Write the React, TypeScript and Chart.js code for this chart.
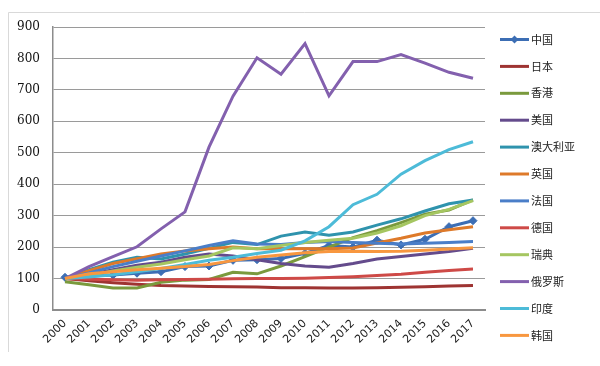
import React, { useEffect, useRef } from "react";
import { Chart, registerables } from "chart.js";

Chart.register(...registerables);

const years = ["2000","2001","2002","2003","2004","2005","2006","2007","2008","2009","2010","2011","2012","2013","2014","2015","2016","2017"];
const seriesNames = ["中国","日本","香港","美国","澳大利亚","英国","法国","德国","瑞典","俄罗斯","印度","韩国"];
const seriesColors = ["#3C6EB4","#9E3432","#7A9A3D","#644B8C","#2F93AD","#DE7A2A","#4A7EC8","#CE4A47","#A5C661","#8360AE","#4DBBD8","#F8973F"];

const china = [104,108,111,117,122,138,140,158,160,164,180,205,200,222,207,225,265,284];
const japan = [100,93,87,82,78,76,75,74,73,71,71,70,70,71,72,74,76,78];
const hongkong = [90,80,70,70,88,95,97,120,115,140,170,200,230,252,278,305,318,350];
const usa = [100,112,128,142,152,168,178,172,160,148,140,136,148,162,170,178,186,196];
const australia = [100,128,152,168,162,178,196,215,208,235,248,238,248,270,290,315,338,350];
const uk = [100,125,148,163,178,188,195,200,195,195,195,195,197,213,228,245,255,265];
const france = [100,118,138,155,172,188,205,220,210,208,215,218,215,212,210,212,215,218];
const germany = [100,98,96,95,96,97,98,99,100,100,101,103,106,110,114,120,126,130];
const sweden = [100,110,124,136,146,160,172,198,195,205,215,222,228,245,268,300,320,348];
const russia = [100,138,170,201,258,312,518,680,802,750,847,681,790,790,812,785,756,737];
const india = [100,105,112,122,132,145,158,168,180,190,220,265,335,368,432,475,510,535];
const korea = [100,115,122,128,133,138,145,157,168,175,182,186,187,186,187,190,194,198];

const seriesValues = [china, japan, hongkong, usa, australia, uk, france, germany, sweden, russia, india, korea];
const yTicks = [0,100,200,300,400,500,600,700,800,900];

const framePlugin = {
  id: "frame",
  beforeDraw(chart: any) {
    const ctx = chart.ctx;
    ctx.save();
    ctx.fillStyle = "#ffffff";
    ctx.fillRect(0, 0, chart.width, chart.height);
    ctx.strokeStyle = "#D9D9D9";
    ctx.lineWidth = 1;
    ctx.beginPath();
    ctx.moveTo(8.5, 352);
    ctx.lineTo(8.5, 12.5);
    ctx.lineTo(600, 12.5);
    ctx.stroke();
    ctx.restore();
  },
};

const legendPlugin = {
  id: "sideLegend",
  afterDraw(chart: any) {
    const ctx = chart.ctx;
    ctx.save();
    chart.data.datasets.forEach((ds: any, i: number) => {
      const y = 39.5 + i * 26.9;
      ctx.strokeStyle = ds.borderColor;
      ctx.lineWidth = 3;
      ctx.beginPath();
      ctx.moveTo(500, y);
      ctx.lineTo(529, y);
      ctx.stroke();
      if (ds.pointRadius > 0) {
        ctx.fillStyle = ds.borderColor;
        ctx.beginPath();
        ctx.moveTo(514.5, y - 4);
        ctx.lineTo(518.5, y);
        ctx.lineTo(514.5, y + 4);
        ctx.lineTo(510.5, y);
        ctx.closePath();
        ctx.fill();
      }
      ctx.fillStyle = "#222";
      ctx.font = "11px 'Noto Sans CJK SC'";
      ctx.textBaseline = "middle";
      ctx.textAlign = "left";
      ctx.fillText(ds.label, 531, y);
    });
    ctx.restore();
  },
};

export default function App() {
  const ref = useRef<HTMLCanvasElement | null>(null);
  useEffect(() => {
    if (!ref.current) return;
    const datasets = seriesNames.map((name, i) => ({
      label: name,
      data: seriesValues[i],
      borderColor: seriesColors[i],
      backgroundColor: seriesColors[i],
      borderWidth: 3,
      pointRadius: i === 0 ? 4 : 0,
      pointHoverRadius: i === 0 ? 4 : 0,
      pointBorderWidth: 1,
      pointStyle: "rectRot",
      tension: 0,
      fill: false,
      order: seriesNames.length - 1 - i,
    }));
    const chart = new Chart(ref.current, {
      type: "line",
      data: { labels: years, datasets },
      options: {
        responsive: false,
        animation: false,
        layout: { padding: { left: 0, top: 27, right: 115, bottom: 0 } },
        plugins: { legend: { display: false }, tooltip: { enabled: false } },
        scales: {
          x: {
            type: "category",
            offset: true,
            grid: { display: false, drawTicks: false },
            border: { display: true, color: "#8C8C8C", width: 2 },
            ticks: {
              autoSkip: false,
              maxRotation: 45,
              minRotation: 45,
              padding: 7,
              color: "#222",
              font: { family: "DejaVu Sans", size: 11 },
            },
            afterFit(scale: any) { scale.height = 56; },
          },
          y: {
            min: 0,
            max: 900,
            afterBuildTicks(scale: any) { scale.ticks = yTicks.map((v) => ({ value: v })); },
            grid: { color: "#9A9A9A", lineWidth: 1, drawTicks: false },
            border: { display: true, color: "#8C8C8C", width: 1.5 },
            ticks: {
              padding: 13,
              color: "#111",
              font: { family: "DejaVu Serif", size: 12 },
            },
            afterFit(scale: any) { scale.width = 53; },
          },
        },
      },
      plugins: [framePlugin, legendPlugin],
    });
    return () => chart.destroy();
  }, []);
  return (
    <div style={{ position: "absolute", left: 0, top: 0, width: 600, height: 366, background: "#fff" }}>
      <canvas ref={ref} width={600} height={366} style={{ display: "block" }} />
    </div>
  );
}
